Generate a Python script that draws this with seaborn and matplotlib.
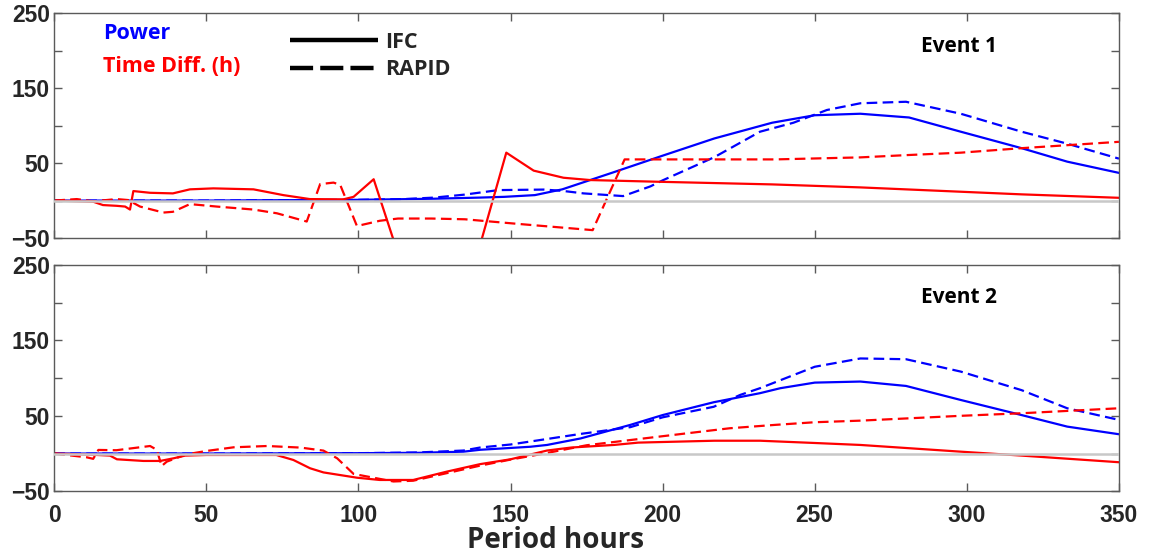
import numpy as np
import pandas as pd
import matplotlib
matplotlib.use("Agg")
import matplotlib.pyplot as plt
from matplotlib.lines import Line2D
import seaborn as sns

# ---------------- data ----------------
# Event 1
e1_power_ifc_x = [0, 50, 100, 125, 140, 148, 158, 167, 184, 200, 217, 236, 250, 265, 281, 298, 318, 333, 350]
e1_power_ifc_y = [0, 0, 1, 2.5, 4, 5, 7.3, 15, 38, 60, 83, 104, 114, 116, 111, 92, 70, 52, 37]

e1_power_rapid_x = [0, 50, 100, 115, 125, 135, 146, 161, 167, 174, 187, 196, 200, 217, 232, 243, 254, 265, 280, 298, 318, 333, 350]
e1_power_rapid_y = [0, 0, 1, 2, 4, 8, 14, 14.7, 13, 9.6, 6, 19, 27, 58, 92, 104, 121, 130, 132, 116, 92, 76, 56]

e1_time_ifc_x = [0, 12.8, 16, 20.5, 23.3, 24.9, 26, 31.5, 39, 44.6, 52.3, 65.5, 75.3, 84, 95, 98.4, 105,
                 127, 148.6, 157.6, 167.4, 176.2, 200, 236, 265, 318, 350]
e1_time_ifc_y = [0, -1.5, -6, -7, -8, -12, 12.7, 10.4, 9.6, 15, 16.3, 15, 7.3, 2, 1.6, 5, 28.5,
                 -245, 64, 40, 30.5, 27.4, 25, 21.6, 17.6, 8.3, 3.7]

e1_time_rapid_x = [0, 7.4, 12.8, 20.5, 24.3, 28.2, 35.9, 39, 44.6, 53.4, 65.5, 73.2, 83, 87.4, 91.8, 94,
                   99.5, 107, 113, 124, 135, 152, 177, 187.5, 200, 237, 265, 280, 298, 318, 333, 350]
e1_time_rapid_y = [0, 2, -1, 2, 0.7, -8, -16, -15, -4.7, -8, -12, -17, -28, 22, 24, 21,
                   -34, -27, -24, -24, -25, -31, -39.5, 55, 55, 55, 57.7, 60.7, 64, 70, 74, 78.5]

# Event 2
e2_power_ifc_x = [0, 50, 100, 120, 134.5, 140, 156.5, 162, 173, 189.4, 200, 216.8, 232, 238.7, 250, 265, 280, 298, 318, 333, 350]
e2_power_ifc_y = [0, 0, 0.5, 1, 2.5, 5, 9, 11.4, 20, 38, 51, 68, 80, 86.6, 94, 95.4, 89.6, 71, 51, 35.7, 25.6]

e2_power_rapid_x = [0, 50, 100, 120, 134.5, 140, 150, 173, 189.4, 200, 216.8, 225.5, 232, 250, 265, 280, 298, 318, 333, 350]
e2_power_rapid_y = [0, 0, 0.5, 1.5, 4, 8, 12, 26, 35, 48, 62, 77.7, 86.6, 115, 126, 125, 108.6, 84, 60, 44.6]

e2_time_ifc_x = [0, 11.7, 18.3, 20.6, 29.3, 34.8, 39.2, 43, 50, 73, 78.6, 84.1, 88.5, 99.5, 107, 118, 129,
                 140, 150, 162, 170, 184, 192, 217, 232, 250, 265, 298, 318, 350]
e2_time_ifc_y = [0, -1.4, -2.7, -7.6, -9.8, -9.8, -6.3, -2.7, -1.9, -1.9, -8.5, -19.5, -25, -32, -35, -35, -24,
                 -14, -7.6, 4, 8, 11.4, 14.5, 17, 17, 14, 11.4, 2.5, -2.7, -11.5]

e2_time_rapid_x = [0, 10.7, 12.8, 14.5, 20.4, 31.5, 33.7, 35.3, 37, 43.5, 50, 59, 70, 81, 88.5, 93, 98.4,
                   111.5, 118, 129, 140, 150, 161, 175, 200, 222, 237, 250, 265, 298, 318, 350]
e2_time_rapid_y = [0, -5, -7, 4.8, 4.4, 10, 5, -16.5, -10.7, -1, 3.4, 8.3, 10, 7.9, 3.9, -6.3, -27,
                   -37, -36, -26, -16, -8, 0, 11, 23, 33.5, 38, 41.5, 43.6, 50, 53.4, 60]

x_ticks = [0, 50, 100, 150, 200, 250, 300, 350]
y_ticks = [-50, 0, 50, 100, 150, 200, 250]
y_tick_labels = ["\u221250", "", "50", "", "150", "", "250"]
events = ["Event 1", "Event 2"]

# ---------------- tidy frame ----------------
series = [
    ("Event 1", "Power", "IFC", e1_power_ifc_x, e1_power_ifc_y),
    ("Event 1", "Power", "RAPID", e1_power_rapid_x, e1_power_rapid_y),
    ("Event 1", "Time", "IFC", e1_time_ifc_x, e1_time_ifc_y),
    ("Event 1", "Time", "RAPID", e1_time_rapid_x, e1_time_rapid_y),
    ("Event 2", "Power", "IFC", e2_power_ifc_x, e2_power_ifc_y),
    ("Event 2", "Power", "RAPID", e2_power_rapid_x, e2_power_rapid_y),
    ("Event 2", "Time", "IFC", e2_time_ifc_x, e2_time_ifc_y),
    ("Event 2", "Time", "RAPID", e2_time_rapid_x, e2_time_rapid_y),
]
rows = []
for ev, q, m, xs, ys in series:
    for xv, yv in zip(xs, ys):
        rows.append({"event": ev, "quantity": q, "model": m, "hours": xv, "value": yv})
df = pd.DataFrame(rows)

sns.set_theme(style="white")
plt.rcParams["font.family"] = ["Liberation Sans", "DejaVu Sans"]

fig = plt.figure(figsize=(11.52, 5.6), dpi=100)
ax1 = fig.add_axes([0.0471, 0.575, 0.9242, 0.401])
ax2 = fig.add_axes([0.0471, 0.1227, 0.9242, 0.4043])

palette = {"Power": "#0000ff", "Time": "#ff0000"}
dashes = {"IFC": "", "RAPID": (4.8, 2.4)}
spine_col = "#5a5a5a"
label_font = ["Open Sans", "DejaVu Sans"]

for ax, ev in zip([ax1, ax2], events):
    sub = df[df["event"] == ev]
    sns.lineplot(data=sub, x="hours", y="value", hue="quantity", style="model",
                 palette=palette, dashes=dashes, estimator=None, sort=False,
                 linewidth=1.6, legend=False, ax=ax)
    ax.axhline(0, color="#c8c8c8", linewidth=1.8, zorder=5)
    ax.set_xlim(0, 350)
    ax.set_ylim(-50, 250)
    ax.set_xticks(x_ticks)
    ax.set_yticks(y_ticks)
    ax.set_yticklabels(y_tick_labels)
    ax.tick_params(direction="in", length=6, width=1, color=spine_col,
                   top=True, right=True, bottom=True, left=True,
                   labelsize=16.5, pad=3)
    for lab in ax.get_yticklabels():
        lab.set_fontweight("bold")
    for s in ax.spines.values():
        s.set_color(spine_col)
        s.set_linewidth(1)
    ax.set_ylabel("")
    ax.set_xlabel("")
    ax.text(0.85, 0.855, ev, transform=ax.transAxes, ha="center", va="center",
            fontsize=15, fontweight="bold", family=label_font, color="black")

ax1.set_xticklabels([])
ax2.tick_params(axis="x", pad=9)
for lab in ax2.get_xticklabels():
    lab.set_fontweight("bold")
ax2.set_xlabel("Period hours", fontsize=20, fontweight="bold", family=label_font)
ax2.xaxis.set_label_coords(0.471, -0.155)

# text legend
ax1.text(0.046, 0.91, "Power", transform=ax1.transAxes, ha="left", va="center",
         fontsize=15.5, fontweight="bold", color="#0000ff", family=label_font)
ax1.text(0.046, 0.765, "Time Diff. (h)", transform=ax1.transAxes, ha="left", va="center",
         fontsize=15.5, fontweight="bold", color="#ff0000", family=label_font)

handles = [Line2D([], [], color="black", linewidth=3.2, solid_capstyle="butt"),
           Line2D([], [], color="black", linewidth=3.2, dashes=(5.2, 1.6), dash_capstyle="butt")]
leg = ax1.legend(handles, ["IFC", "RAPID"], loc="upper left", bbox_to_anchor=(0.203, 1.005),
                 frameon=False, handlelength=4.1, handletextpad=0.35, labelspacing=0.3,
                 prop={"family": label_font, "weight": "bold", "size": 15.5})

fig.savefig("out.png", dpi=100)
